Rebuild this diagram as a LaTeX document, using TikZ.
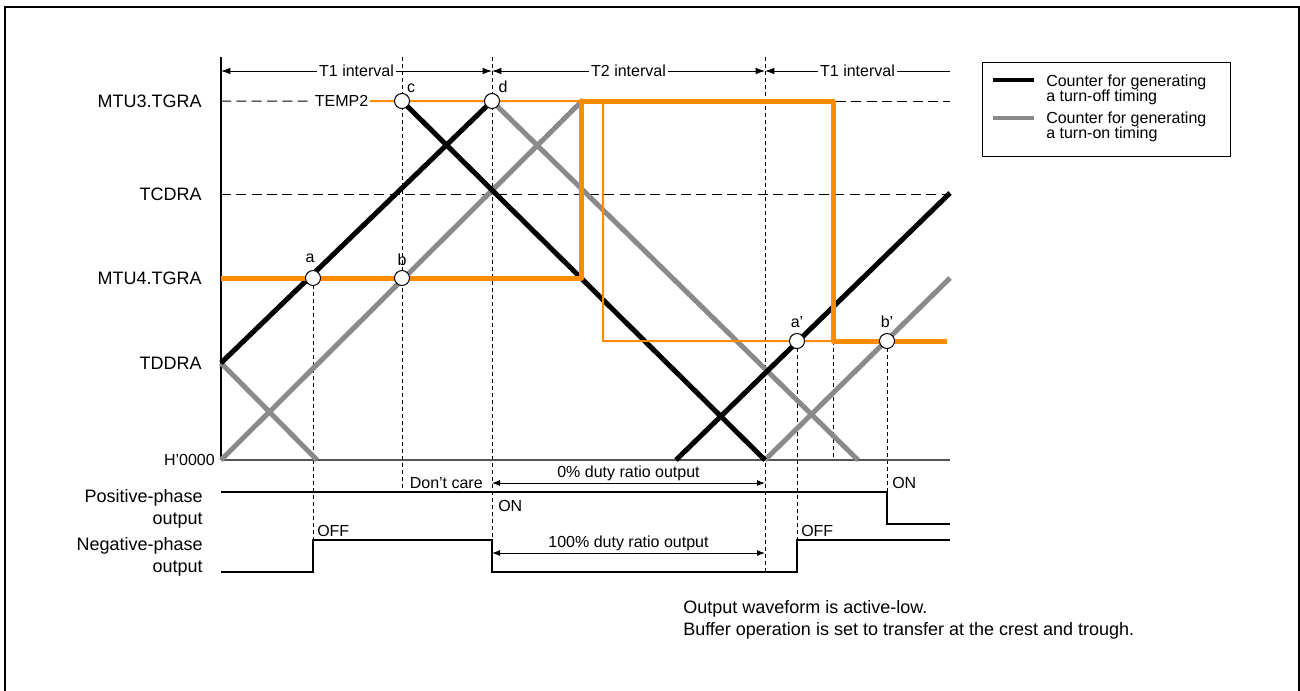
\documentclass[tikz,border=0pt]{standalone}
\usepackage{fontspec}
\setmainfont{Liberation Sans}
\usetikzlibrary{arrows.meta}
\definecolor{orng}{RGB}{255,140,0}
\definecolor{cgray}{RGB}{138,138,138}
\definecolor{axgray}{RGB}{85,85,85}
\begin{document}
\begin{tikzpicture}[x=0.75pt,y=-0.75pt,
  txtbig/.style={font=\fontsize{13.5}{16}\selectfont, inner sep=0pt},
  txtsmall/.style={font=\fontsize{12}{14}\selectfont, inner sep=0pt},
  cntblack/.style={line width=3.75pt, black},
  cntgray/.style={line width=3.75pt, cgray},
  orthick/.style={line width=3.75pt, orng, line join=round},
  orthin/.style={line width=1.5pt, orng},
  vdash/.style={line width=0.75pt, dash pattern=on 3pt off 2.25pt},
  hdash/.style={line width=0.75pt, dash pattern=on 7.5pt off 4pt},
  sigline/.style={line width=1.5pt, black, line join=miter},
  dimarrow/.style={line width=0.75pt, {Latex[length=7pt,width=5pt]}-{Latex[length=7pt,width=5pt]}},
  dimleft/.style={line width=0.75pt, {Latex[length=7pt,width=5pt]}-},
  dimsmall/.style={line width=0.75pt, {Latex[length=6pt,width=4.5pt]}-{Latex[length=6pt,width=4.5pt]}},
  ptmark/.style={circle, draw, fill=white, line width=0.75pt, minimum size=11.25pt, inner sep=0pt},
  lbl/.style={fill=white, inner xsep=1.5pt, inner ysep=1pt}
]
\useasboundingbox (0,0) rectangle (1300,690);
\clip (0,0) rectangle (1300,690);

% outer frame
\draw[line width=1.5pt] (5,7) rectangle (1299,700);

% key points
\coordinate (O) at (221,460);
\coordinate (Ytop) at (221,57);
\coordinate (Xend) at (950,460);
\coordinate (L3) at (221,101);
\coordinate (R3) at (950,101);
\coordinate (LC) at (221,194);
\coordinate (RC) at (950,194);
\coordinate (pa) at (313,278);
\coordinate (pb) at (402,278);
\coordinate (pc) at (402,101);
\coordinate (pd) at (492,101);
\coordinate (pa2) at (797,341);
\coordinate (pb2) at (887,341);

% level labels
\node[txtbig, anchor=east] (l3) at (202,101) {MTU3.TGRA};
\node[txtbig, anchor=east] (lc) at (202,194) {TCDRA};
\node[txtbig, anchor=east] (l4) at (202,278) {MTU4.TGRA};
\node[txtbig, anchor=east] (ld) at (202,363) {TDDRA};
\node[txtsmall, anchor=east] (lh) at (215,460) {H’0000};

% row labels
\node[txtbig, anchor=base east] (pp1) at (203,502) {Positive-phase};
\node[txtbig, anchor=base east] (pp2) at (203,524) {output};
\node[txtbig, anchor=base east] (np1) at (203,550) {Negative-phase};
\node[txtbig, anchor=base east] (np2) at (203,572) {output};

% horizontal dashed levels
\node[txtsmall, anchor=base, inner xsep=1pt] (temp) at (341.5,106.7) {TEMP2};
\draw[hdash] (L3) -- (temp.west);
\draw[hdash] (836,101) -- (R3);
\draw[hdash] (LC) -- (RC);

% vertical dashed lines
\draw[vdash] (pa) -- (313,540);
\draw[vdash] (402,57) -- (402,492);
\draw[vdash] (492,57) -- (492,540);
\draw[vdash] (765,57) -- (765,572);
\draw[vdash] (pa2) -- (797,540);
\draw[vdash] (833,341) -- (833,460);
\draw[vdash] (pb2) -- (887,492);

% axes
\draw[line width=1.2pt] (Ytop) -- (O);
\draw[line width=1.5pt, axgray] (O) -- (Xend);

% interval dimensions
\draw[dimarrow] (221,71) -- node[txtsmall, lbl] (t1a) {T1 interval} (492,71);
\draw[dimarrow] (492,71) -- node[txtsmall, lbl] (t2) {T2 interval} (765,71);
\draw[dimleft] (765,71) -- node[txtsmall, lbl] (t1b) {T1 interval} (950,71);

% gray counter (turn-on timing)
\draw[cntgray] (221,363) -- (317,460);
\draw[cntgray] (O) -- (583,100);
\draw[cntgray] (pd) -- (858,460);
\draw[cntgray] (765,460) -- (950,278);

% black counter (turn-off timing)
\draw[cntblack] (221,363) -- (pd);
\draw[cntblack] (pc) -- (765,460);
\draw[cntblack] (676,460) -- (950,193);

% orange compare registers
\draw[orthin] (temp.east) -- (603,101) -- (603,341) -- (833,341);
\draw[orthick] (221,278) -- (581,278) -- (581,101) -- (833,101) -- (833,341) -- (947,341);

% marker circles
\node[ptmark] (ca) at (pa) {};
\node[ptmark] (cb) at (pb) {};
\node[ptmark] (cc) at (pc) {};
\node[ptmark] (cd) at (pd) {};
\node[ptmark] (ca2) at (pa2) {};
\node[ptmark] (cb2) at (pb2) {};
\node[txtsmall, anchor=base] (la) at (310,262) {a};
\node[txtsmall, anchor=base] (lb) at (402,265.5) {b};
\node[txtsmall, anchor=base] (lcc) at (411,92.5) {c};
\node[txtsmall, anchor=base] (ldd) at (503,92.5) {d};
\node[txtsmall, anchor=base] (la2) at (797,327.5) {a’};
\node[txtsmall, anchor=base] (lb2) at (887,327.5) {b’};

% output signals
\draw[sigline] (221,492) -- (887,492) -- (887,524) -- (950,524);
\draw[sigline] (221,572) -- (313,572) -- (313,540) -- (492,540) -- (492,572) -- (797,572) -- (797,540) -- (950,540);

% duty annotations
\draw[dimsmall] (492,483) -- node[txtsmall, anchor=base, yshift=4.5pt] (d0) {0\% duty ratio output} (765,483);
\draw[dimsmall] (492,553) -- node[txtsmall, anchor=base, yshift=4.5pt] (d100) {100\% duty ratio output} (765,553);
\node[txtsmall, anchor=base east] (dc) at (483,488.5) {Don’t care};
\node[txtsmall, anchor=base west] (on1) at (498,511) {ON};
\node[txtsmall, anchor=base west] (on2) at (892,488.5) {ON};
\node[txtsmall, anchor=base west] (off1) at (317,536) {OFF};
\node[txtsmall, anchor=base west] (off2) at (801,536) {OFF};

% legend
\draw[line width=0.75pt] (982,62) rectangle (1230,156);
\draw[line width=3pt, black] (993,79.5) -- (1034,79.5);
\draw[line width=3pt, cgray] (993,118) -- (1034,118);
\node[txtsmall, anchor=base west] (lg1) at (1046,86) {Counter for generating};
\node[txtsmall, anchor=base west] (lg2) at (1046,101.5) {a turn-off timing};
\node[txtsmall, anchor=base west] (lg3) at (1046,123) {Counter for generating};
\node[txtsmall, anchor=base west] (lg4) at (1046,138) {a turn-on timing};

% notes
\node[txtbig, anchor=base west] (n1) at (683,613) {Output waveform is active-low.};
\node[txtbig, anchor=base west] (n2) at (683,635.5) {Buffer operation is set to transfer at the crest and trough.};
\end{tikzpicture}
\end{document}
